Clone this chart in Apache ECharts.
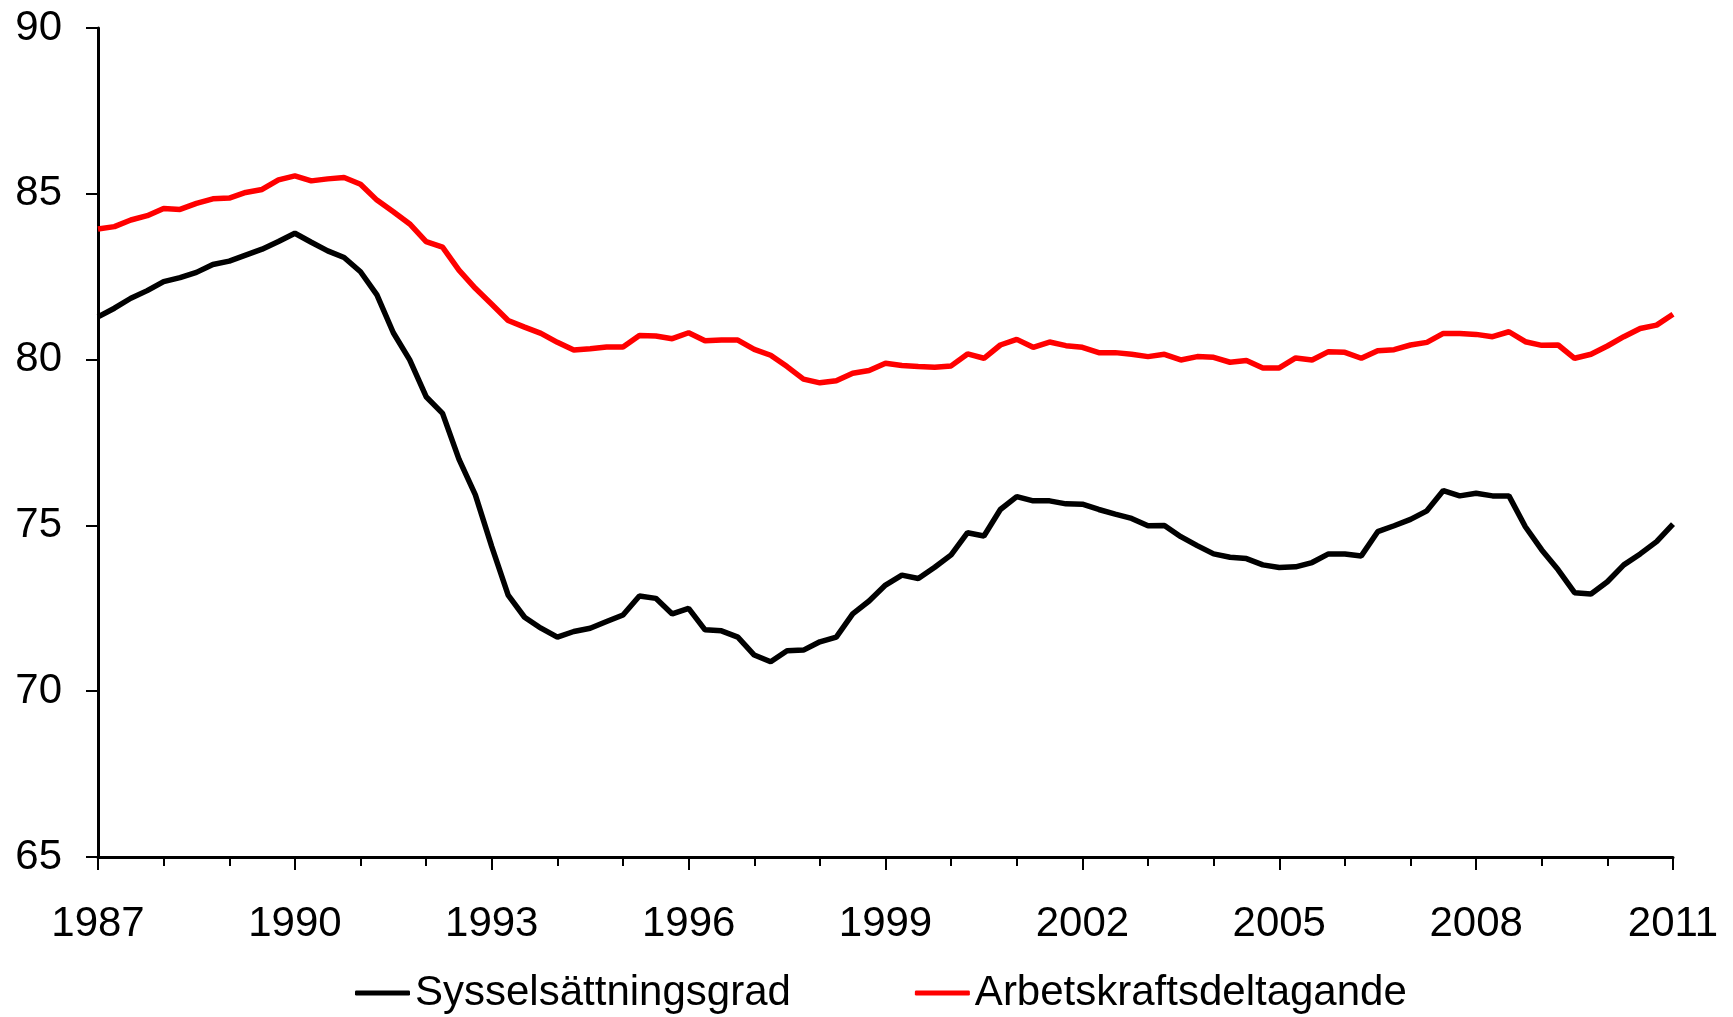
<!DOCTYPE html>
<html>
<head>
<meta charset="utf-8">
<title>Sysselsättningsgrad och arbetskraftsdeltagande</title>
<script src="https://cdn.jsdelivr.net/npm/echarts@6/dist/echarts.min.js"></script>
<style>
  html, body { margin: 0; padding: 0; background: #fff; }
  #chart { width: 1733px; height: 1017px; }
</style>
</head>
<body>
<div id="chart"></div>
<script>
// kvartal 1987K1 - 2011K1
const startYear = 1987;
const endYear = 2011;

// Sysselsättningsgrad (svart)
const sysselsattningsgrad = [
  81.29, 81.55, 81.85, 82.08, 82.35, 82.47, 82.63, 82.87, 82.97, 83.15,
  83.33, 83.56, 83.81, 83.54, 83.28, 83.08, 82.65, 81.95, 80.81, 79.99,
  78.88, 78.38, 77.00, 75.92, 74.36, 72.90, 72.23, 71.90, 71.63, 71.80,
  71.90, 72.10, 72.30, 72.87, 72.80, 72.33, 72.50, 71.85, 71.82, 71.63,
  71.09, 70.89, 71.22, 71.24, 71.49, 71.63, 72.33, 72.72, 73.20, 73.50,
  73.40, 73.74, 74.11, 74.78, 74.68, 75.48, 75.87, 75.74, 75.74, 75.65,
  75.64, 75.48, 75.34, 75.21, 74.99, 75.00, 74.66, 74.39, 74.14, 74.04,
  74.00, 73.81, 73.73, 73.75, 73.88, 74.14, 74.14, 74.08, 74.81, 74.99,
  75.18, 75.44, 76.05, 75.89, 75.97, 75.89, 75.89, 74.96, 74.26, 73.66,
  72.97, 72.93, 73.30, 73.81, 74.14, 74.51, 75.04
];

// Arbetskraftsdeltagande (röd)
const arbetskraftsdeltagande = [
  83.94, 84.01, 84.21, 84.34, 84.56, 84.53, 84.71, 84.85, 84.87, 85.04,
  85.13, 85.42, 85.54, 85.39, 85.45, 85.49, 85.29, 84.81, 84.46, 84.09,
  83.56, 83.39, 82.70, 82.15, 81.67, 81.18, 80.98, 80.79, 80.52, 80.29,
  80.33, 80.38, 80.38, 80.73, 80.71, 80.63, 80.81, 80.57, 80.59, 80.59,
  80.31, 80.13, 79.79, 79.41, 79.30, 79.36, 79.59, 79.67, 79.89, 79.82,
  79.79, 79.77, 79.81, 80.17, 80.04, 80.44, 80.61, 80.37, 80.53, 80.42,
  80.37, 80.21, 80.21, 80.16, 80.09, 80.16, 79.99, 80.09, 80.07, 79.92,
  79.97, 79.75, 79.75, 80.05, 79.99, 80.24, 80.22, 80.04, 80.27, 80.30,
  80.44, 80.52, 80.79, 80.79, 80.76, 80.69, 80.84, 80.54, 80.43, 80.44,
  80.04, 80.16, 80.41, 80.69, 80.94, 81.04, 81.37
];

// y-axelns skala
const yMin = 65;
const yMax = 90;
const yStep = 5;

// kategorier: ett per kvartal
const quarters = [];
for (let y = startYear; y <= endYear; y++) {
  for (let q = 1; q <= 4; q++) {
    if (y === endYear && q > 1) break;
    quarters.push(y + "K" + q);
  }
}

const chart = echarts.init(document.getElementById("chart"));
const font = "'Liberation Sans', Arial, sans-serif";

const option = {
  animation: false,
  backgroundColor: "#fff",
  grid: {
    left: 98,
    right: 60,
    top: 28,
    bottom: 160,
  },
  xAxis: [
    {
      // korta streck varje år
      type: "category",
      data: quarters,
      boundaryGap: false,
      axisLine: { lineStyle: { color: "#000", width: 3 } },
      axisTick: { interval: 3, length: 9, lineStyle: { color: "#000", width: 2 } },
      axisLabel: { show: false },
      splitLine: { show: false },
    },
    {
      // långa streck och etiketter var tredje år
      type: "category",
      data: quarters,
      boundaryGap: false,
      position: "bottom",
      axisLine: { show: false },
      axisTick: { interval: 11, length: 13, lineStyle: { color: "#000", width: 2 } },
      axisLabel: {
        interval: 11,
        margin: 46,
        color: "#000",
        fontSize: 42,
        fontFamily: font,
        formatter: (v) => v.slice(0, 4),
      },
      splitLine: { show: false },
    },
  ],
  yAxis: {
    type: "value",
    min: yMin,
    max: yMax,
    interval: yStep,
    axisLine: { show: true, lineStyle: { color: "#000", width: 3 } },
    axisTick: { show: true, length: 12, lineStyle: { color: "#000", width: 2 } },
    axisLabel: { margin: 36, color: "#000", fontSize: 42, fontFamily: font },
    splitLine: { show: false },
  },
  legend: {
    left: 355,
    top: 972,
    padding: 0,
    icon: "roundRect",
    itemWidth: 55,
    itemHeight: 5,
    itemGap: 124,
    textStyle: { color: "#000", fontSize: 42, fontFamily: font },
    data: ["Sysselsättningsgrad", "Arbetskraftsdeltagande"],
  },
  series: [
    {
      name: "Sysselsättningsgrad",
      type: "line",
      data: sysselsattningsgrad,
      symbol: "none",
      lineStyle: { color: "#000", width: 5.5 },
      itemStyle: { color: "#000" },
    },
    {
      name: "Arbetskraftsdeltagande",
      type: "line",
      data: arbetskraftsdeltagande,
      symbol: "none",
      lineStyle: { color: "#ff0000", width: 5.5 },
      itemStyle: { color: "#ff0000" },
    },
  ],
};

chart.setOption(option);
</script>
</body>
</html>
